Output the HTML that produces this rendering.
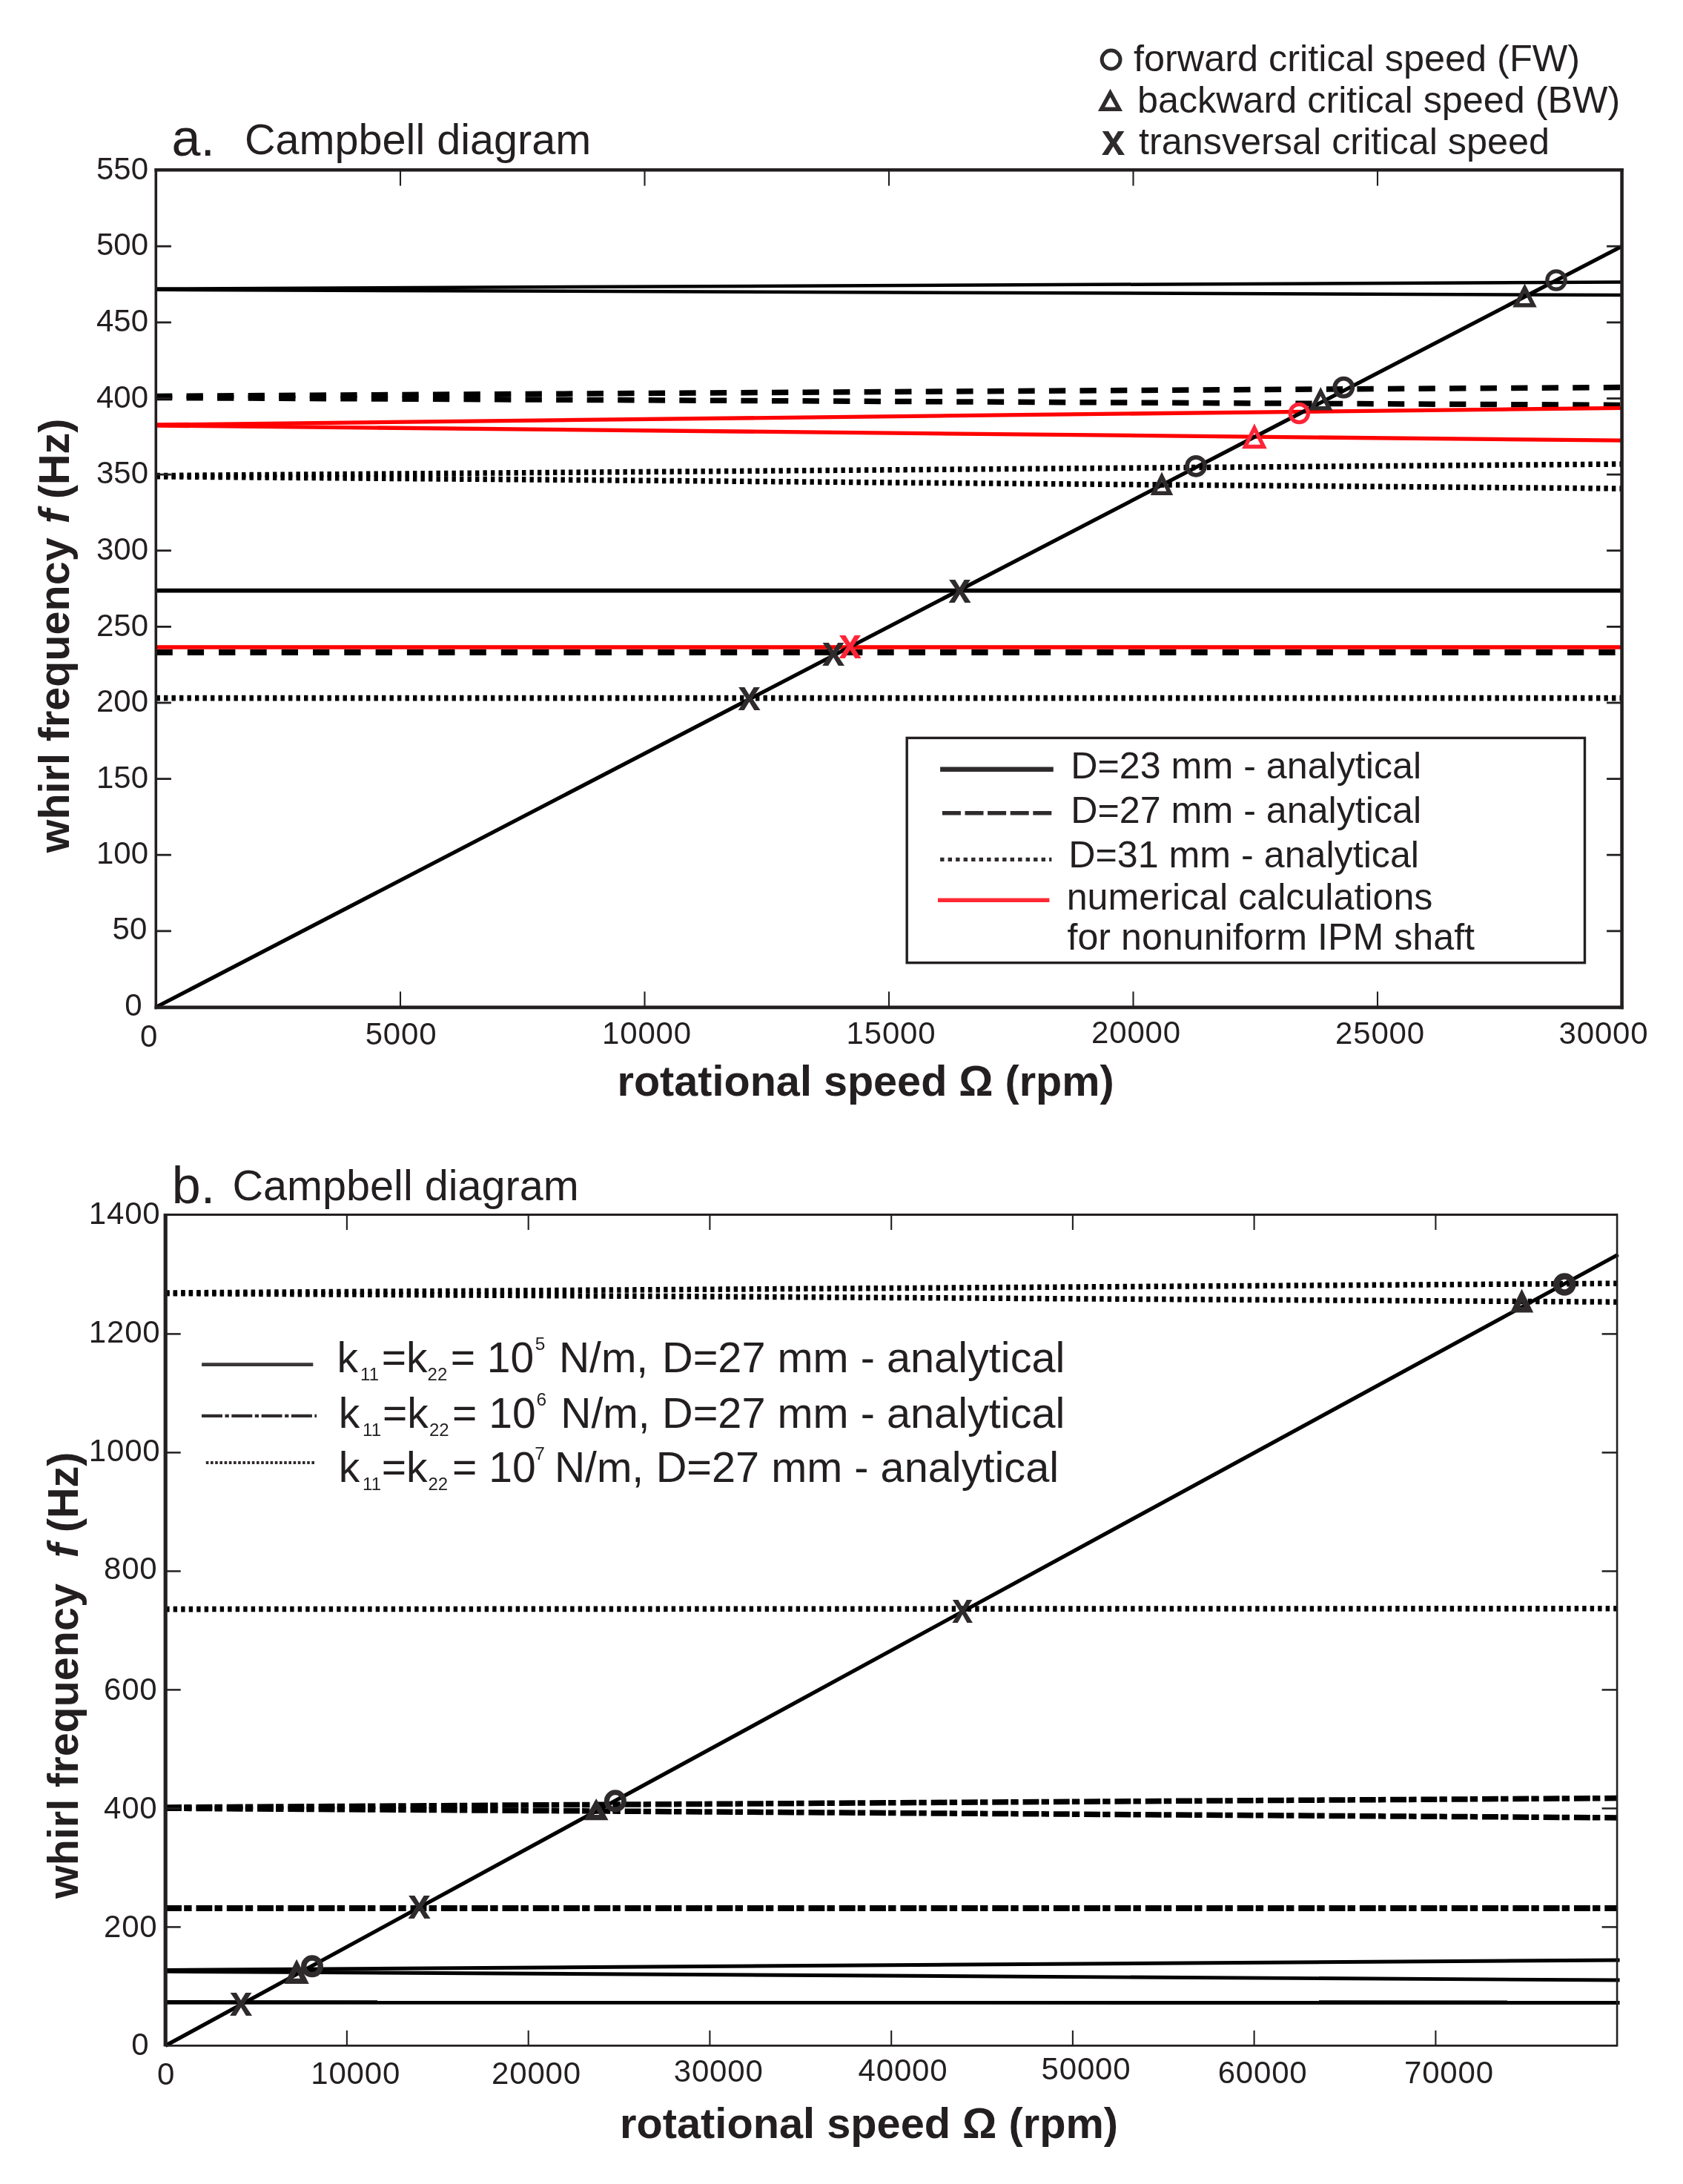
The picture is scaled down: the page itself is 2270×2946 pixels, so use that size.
<!DOCTYPE html>
<html lang="en">
<head>
<meta charset="utf-8">
<title>Campbell diagrams</title>
<style>
html,body{margin:0;padding:0;background:#fff;}
body{width:2270px;height:2946px;overflow:hidden;}
svg{display:block;font-family:"Liberation Sans",sans-serif;filter:blur(0.45px);}
</style>
</head>
<body>
<svg width="2270" height="2946" viewBox="0 0 2270 2946">
<rect width="2270" height="2946" fill="#fff"/>
<g id="plot-a">
<line x1="210.5" y1="641.6" x2="2187.5" y2="626.0" stroke="#000" stroke-width="7.5" stroke-dasharray="5.4 5.1"/>
<line x1="210.5" y1="642.8" x2="2187.5" y2="659.0" stroke="#000" stroke-width="7.5" stroke-dasharray="5.4 5.1"/>
<line x1="210.5" y1="941.6" x2="2187.5" y2="941.6" stroke="#000" stroke-width="7.6" stroke-dasharray="5.4 5.1"/>
<line x1="210.0" y1="534.5" x2="2187.5" y2="522.5" stroke="#000" stroke-width="7.5" stroke-dasharray="22.3 19.25"/>
<line x1="210.0" y1="536.5" x2="2187.5" y2="546.4" stroke="#000" stroke-width="7.5" stroke-dasharray="22.3 19.25"/>
<line x1="210.5" y1="880.0" x2="2187.5" y2="880.0" stroke="#000" stroke-width="7.9" stroke-dasharray="22.3 20"/>
<line x1="210.5" y1="389.6" x2="2187.5" y2="380.6" stroke="#000" stroke-width="4.5"/>
<line x1="210.5" y1="390.8" x2="2187.5" y2="398.0" stroke="#000" stroke-width="4.5"/>
<line x1="210.5" y1="796.6" x2="2187.5" y2="796.6" stroke="#000" stroke-width="5.6"/>
<line x1="210.5" y1="573.0" x2="2187.5" y2="550.4" stroke="#ff0000" stroke-width="5.3"/>
<line x1="210.5" y1="574.0" x2="2187.5" y2="594.2" stroke="#ff0000" stroke-width="5.3"/>
<line x1="210.5" y1="873.1" x2="2187.5" y2="873.1" stroke="#ff0000" stroke-width="5.5"/>
<line x1="210.5" y1="1358.5" x2="2187.5" y2="332.2" stroke="#000" stroke-width="5.2"/>
<line x1="210.3" y1="226.9" x2="210.3" y2="1361.2" stroke="#231f20" stroke-width="3.6"/>
<line x1="208.5" y1="229.2" x2="2189.9" y2="229.2" stroke="#231f20" stroke-width="4.6"/>
<line x1="2187.6" y1="226.9" x2="2187.6" y2="1361.2" stroke="#231f20" stroke-width="4.6"/>
<line x1="208.5" y1="1358.8" x2="2189.9" y2="1358.8" stroke="#231f20" stroke-width="4.8"/>
<line x1="540.0" y1="229.6" x2="540.0" y2="250.6" stroke="#231f20" stroke-width="2.1"/>
<line x1="540.0" y1="1358.5" x2="540.0" y2="1337.5" stroke="#231f20" stroke-width="2.1"/>
<line x1="869.5" y1="229.6" x2="869.5" y2="250.6" stroke="#231f20" stroke-width="2.1"/>
<line x1="869.5" y1="1358.5" x2="869.5" y2="1337.5" stroke="#231f20" stroke-width="2.1"/>
<line x1="1199.0" y1="229.6" x2="1199.0" y2="250.6" stroke="#231f20" stroke-width="2.1"/>
<line x1="1199.0" y1="1358.5" x2="1199.0" y2="1337.5" stroke="#231f20" stroke-width="2.1"/>
<line x1="1528.5" y1="229.6" x2="1528.5" y2="250.6" stroke="#231f20" stroke-width="2.1"/>
<line x1="1528.5" y1="1358.5" x2="1528.5" y2="1337.5" stroke="#231f20" stroke-width="2.1"/>
<line x1="1858.0" y1="229.6" x2="1858.0" y2="250.6" stroke="#231f20" stroke-width="2.1"/>
<line x1="1858.0" y1="1358.5" x2="1858.0" y2="1337.5" stroke="#231f20" stroke-width="2.1"/>
<line x1="210.5" y1="1255.9" x2="230.9" y2="1255.9" stroke="#231f20" stroke-width="2.8"/>
<line x1="2187.5" y1="1255.9" x2="2167.1" y2="1255.9" stroke="#231f20" stroke-width="2.8"/>
<line x1="210.5" y1="1153.2" x2="230.9" y2="1153.2" stroke="#231f20" stroke-width="2.8"/>
<line x1="2187.5" y1="1153.2" x2="2167.1" y2="1153.2" stroke="#231f20" stroke-width="2.8"/>
<line x1="210.5" y1="1050.6" x2="230.9" y2="1050.6" stroke="#231f20" stroke-width="2.8"/>
<line x1="2187.5" y1="1050.6" x2="2167.1" y2="1050.6" stroke="#231f20" stroke-width="2.8"/>
<line x1="210.5" y1="948.0" x2="230.9" y2="948.0" stroke="#231f20" stroke-width="2.8"/>
<line x1="2187.5" y1="948.0" x2="2167.1" y2="948.0" stroke="#231f20" stroke-width="2.8"/>
<line x1="210.5" y1="845.4" x2="230.9" y2="845.4" stroke="#231f20" stroke-width="2.8"/>
<line x1="2187.5" y1="845.4" x2="2167.1" y2="845.4" stroke="#231f20" stroke-width="2.8"/>
<line x1="210.5" y1="742.7" x2="230.9" y2="742.7" stroke="#231f20" stroke-width="2.8"/>
<line x1="2187.5" y1="742.7" x2="2167.1" y2="742.7" stroke="#231f20" stroke-width="2.8"/>
<line x1="210.5" y1="640.1" x2="230.9" y2="640.1" stroke="#231f20" stroke-width="2.8"/>
<line x1="2187.5" y1="640.1" x2="2167.1" y2="640.1" stroke="#231f20" stroke-width="2.8"/>
<line x1="210.5" y1="537.5" x2="230.9" y2="537.5" stroke="#231f20" stroke-width="2.8"/>
<line x1="2187.5" y1="537.5" x2="2167.1" y2="537.5" stroke="#231f20" stroke-width="2.8"/>
<line x1="210.5" y1="434.9" x2="230.9" y2="434.9" stroke="#231f20" stroke-width="2.8"/>
<line x1="2187.5" y1="434.9" x2="2167.1" y2="434.9" stroke="#231f20" stroke-width="2.8"/>
<line x1="210.5" y1="332.2" x2="230.9" y2="332.2" stroke="#231f20" stroke-width="2.8"/>
<line x1="2187.5" y1="332.2" x2="2167.1" y2="332.2" stroke="#231f20" stroke-width="2.8"/>
<text x="191.7" y="1369.9" font-size="42" text-anchor="end" font-weight="normal" fill="#231f20">0</text>
<text x="198.3" y="1267.3" font-size="42" text-anchor="end" font-weight="normal" fill="#231f20">50</text>
<text x="200.1" y="1165.4" font-size="42" text-anchor="end" font-weight="normal" fill="#231f20">100</text>
<text x="200.1" y="1062.8" font-size="42" text-anchor="end" font-weight="normal" fill="#231f20">150</text>
<text x="200.1" y="960.2" font-size="42" text-anchor="end" font-weight="normal" fill="#231f20">200</text>
<text x="200.1" y="857.6" font-size="42" text-anchor="end" font-weight="normal" fill="#231f20">250</text>
<text x="200.1" y="754.9" font-size="42" text-anchor="end" font-weight="normal" fill="#231f20">300</text>
<text x="200.1" y="652.3" font-size="42" text-anchor="end" font-weight="normal" fill="#231f20">350</text>
<text x="200.1" y="549.7" font-size="42" text-anchor="end" font-weight="normal" fill="#231f20">400</text>
<text x="200.1" y="447.1" font-size="42" text-anchor="end" font-weight="normal" fill="#231f20">450</text>
<text x="200.1" y="344.4" font-size="42" text-anchor="end" font-weight="normal" fill="#231f20">500</text>
<text x="200.1" y="241.8" font-size="42" text-anchor="end" font-weight="normal" fill="#231f20">550</text>
<text x="201.0" y="1412.0" font-size="42" text-anchor="middle" font-weight="normal" fill="#231f20" letter-spacing="0.8">0</text>
<text x="541.0" y="1408.5" font-size="42" text-anchor="middle" font-weight="normal" fill="#231f20" letter-spacing="0.8">5000</text>
<text x="872.5" y="1408.3" font-size="42" text-anchor="middle" font-weight="normal" fill="#231f20" letter-spacing="0.8">10000</text>
<text x="1202.0" y="1408.0" font-size="42" text-anchor="middle" font-weight="normal" fill="#231f20" letter-spacing="0.8">15000</text>
<text x="1532.5" y="1406.5" font-size="42" text-anchor="middle" font-weight="normal" fill="#231f20" letter-spacing="0.8">20000</text>
<text x="1861.5" y="1407.7" font-size="42" text-anchor="middle" font-weight="normal" fill="#231f20" letter-spacing="0.8">25000</text>
<text x="2163.0" y="1407.7" font-size="42" text-anchor="middle" font-weight="normal" fill="#231f20" letter-spacing="0.8">30000</text>
<circle cx="2099.0" cy="378.0" r="12.2" fill="none" stroke="#2f2b2c" stroke-width="5.2"/>
<polygon points="2056.5,388.6 2068.2,411.7 2044.8,411.7" fill="none" stroke="#2f2b2c" stroke-width="5.6" stroke-linejoin="miter" stroke-miterlimit="10"/>
<circle cx="1812.3" cy="522.6" r="12.0" fill="none" stroke="#2f2b2c" stroke-width="5.8"/>
<polygon points="1781.3,528.2 1792.8,550.7 1769.8,550.7" fill="none" stroke="#2f2b2c" stroke-width="5.6" stroke-linejoin="miter" stroke-miterlimit="10"/>
<circle cx="1613.1" cy="628.8" r="12.0" fill="none" stroke="#2f2b2c" stroke-width="5.8"/>
<polygon points="1567.0,642.9 1577.8,665.3 1556.2,665.3" fill="none" stroke="#2f2b2c" stroke-width="5.6" stroke-linejoin="miter" stroke-miterlimit="10"/>
<circle cx="1752.3" cy="557.5" r="12.1" fill="none" stroke="#ff2436" stroke-width="5.3"/>
<polygon points="1691.9,577.4 1704.4,602.5 1679.4,602.5" fill="none" stroke="#ff2436" stroke-width="5.4" stroke-linejoin="miter" stroke-miterlimit="10"/>
<text transform="translate(1294.5 813.3) scale(0.92 1)" font-size="60" font-weight="bold" text-anchor="middle" fill="#2f2b2c">x</text>
<text transform="translate(1124.0 898.3) scale(0.92 1)" font-size="60" font-weight="bold" text-anchor="middle" fill="#2f2b2c">x</text>
<text transform="translate(1146.7 887.7) scale(0.92 1)" font-size="60" font-weight="bold" text-anchor="middle" fill="#ff2436">x</text>
<text transform="translate(1010.7 958.4) scale(0.92 1)" font-size="60" font-weight="bold" text-anchor="middle" fill="#2f2b2c">x</text>
<rect x="1223.2" y="995.4" width="914.3" height="303.3" fill="#fff" stroke="#231f20" stroke-width="3.4"/>
<line x1="1268.1" y1="1037.7" x2="1420.8" y2="1037.7" stroke="#2f2b2c" stroke-width="6.4"/>
<line x1="1270.9" y1="1096.7" x2="1418.4" y2="1096.7" stroke="#2f2b2c" stroke-width="5.4" stroke-dasharray="25 5.6"/>
<line x1="1268.1" y1="1159.4" x2="1418.4" y2="1159.4" stroke="#2f2b2c" stroke-width="5.4" stroke-dasharray="5.4 5.1"/>
<line x1="1265.0" y1="1214.2" x2="1415.4" y2="1214.2" stroke="#ff2a35" stroke-width="5.4"/>
<text x="1444.3" y="1050.4" font-size="50.2" text-anchor="start" font-weight="normal" fill="#231f20">D=23 mm - analytical</text>
<text x="1444.3" y="1110.3" font-size="50.2" text-anchor="start" font-weight="normal" fill="#231f20">D=27 mm - analytical</text>
<text x="1441.2" y="1170.2" font-size="50.2" text-anchor="start" font-weight="normal" fill="#231f20">D=31 mm - analytical</text>
<text x="1438.7" y="1227.2" font-size="50.2" text-anchor="start" font-weight="normal" fill="#231f20">numerical calculations</text>
<text x="1439.5" y="1281.4" font-size="50.2" text-anchor="start" font-weight="normal" fill="#231f20">for nonuniform IPM shaft</text>
<text x="231.5" y="209.5" font-size="70" text-anchor="start" font-weight="normal" fill="#231f20">a.</text>
<text x="329.9" y="208.2" font-size="57.6" text-anchor="start" font-weight="normal" fill="#231f20">Campbell diagram</text>
<circle cx="1498.6" cy="80.5" r="12.4" fill="none" stroke="#2f2b2c" stroke-width="5"/>
<polygon points="1497.5,125.4 1509.5,147.3 1485.5,147.3" fill="none" stroke="#2f2b2c" stroke-width="5.4" stroke-linejoin="miter" stroke-miterlimit="10"/>
<text transform="translate(1501.5 209.4) scale(0.92 1)" font-size="62" font-weight="bold" text-anchor="middle" fill="#2f2b2c">x</text>
<text x="1529.0" y="96.2" font-size="50.4" text-anchor="start" font-weight="normal" fill="#231f20">forward critical speed (FW)</text>
<text x="1534.0" y="152.2" font-size="50.3" text-anchor="start" font-weight="normal" fill="#231f20">backward critical speed (BW)</text>
<text x="1536.0" y="208.2" font-size="50.35" text-anchor="start" font-weight="normal" fill="#231f20">transversal critical speed</text>
<text x="1167.6" y="1478.4" font-size="57.6" text-anchor="middle" font-weight="bold" fill="#231f20">rotational speed Ω (rpm)</text>
<text transform="translate(92.6 857.4) rotate(-90)" font-size="57.5" font-weight="bold" text-anchor="middle" fill="#231f20">whirl frequency <tspan font-style="italic" dx="3.1">f</tspan><tspan dx="-1.9"> (Hz)</tspan></text>
</g>
<g id="plot-b">
<line x1="223.2" y1="1744.0" x2="2181.1" y2="1731.2" stroke="#000" stroke-width="7.5" stroke-dasharray="5.4 5.1"/>
<line x1="223.2" y1="1744.6" x2="2181.1" y2="1756.2" stroke="#000" stroke-width="7.5" stroke-dasharray="5.4 5.1"/>
<line x1="223.2" y1="2170.6" x2="2181.1" y2="2169.8" stroke="#000" stroke-width="7.6" stroke-dasharray="5.4 5.1"/>
<line x1="223.2" y1="2438.0" x2="2181.1" y2="2425.6" stroke="#000" stroke-width="7.5" stroke-dasharray="21.8 3.2 10.4 5.9"/>
<line x1="223.2" y1="2439.2" x2="2181.1" y2="2451.9" stroke="#000" stroke-width="7.5" stroke-dasharray="21.8 3.2 10.4 5.9"/>
<line x1="223.2" y1="2573.9" x2="2181.1" y2="2574.1" stroke="#000" stroke-width="8" stroke-dasharray="21.8 3.2 10.4 5.9"/>
<line x1="223.2" y1="2657.4" x2="2184.6" y2="2644.0" stroke="#000" stroke-width="4.9"/>
<line x1="223.2" y1="2659.3" x2="2184.6" y2="2671.0" stroke="#000" stroke-width="4.9"/>
<line x1="223.2" y1="2700.9" x2="2184.6" y2="2701.2" stroke="#000" stroke-width="5.6"/>
<line x1="223.2" y1="2759.4" x2="2182.6" y2="1692.3" stroke="#000" stroke-width="5.2"/>
<line x1="223.2" y1="1637.0" x2="223.2" y2="2760.6" stroke="#231f20" stroke-width="5.2"/>
<line x1="223.2" y1="1638.5" x2="2181.1" y2="1638.5" stroke="#231f20" stroke-width="3"/>
<line x1="2181.1" y1="1637.0" x2="2181.1" y2="2760.6" stroke="#231f20" stroke-width="2.6"/>
<line x1="223.2" y1="2759.4" x2="2181.1" y2="2759.4" stroke="#231f20" stroke-width="2.6"/>
<line x1="467.9" y1="1638.5" x2="467.9" y2="1659.0" stroke="#231f20" stroke-width="2.1"/>
<line x1="467.9" y1="2759.4" x2="467.9" y2="2738.9" stroke="#231f20" stroke-width="2.1"/>
<line x1="712.7" y1="1638.5" x2="712.7" y2="1659.0" stroke="#231f20" stroke-width="2.1"/>
<line x1="712.7" y1="2759.4" x2="712.7" y2="2738.9" stroke="#231f20" stroke-width="2.1"/>
<line x1="957.4" y1="1638.5" x2="957.4" y2="1659.0" stroke="#231f20" stroke-width="2.1"/>
<line x1="957.4" y1="2759.4" x2="957.4" y2="2738.9" stroke="#231f20" stroke-width="2.1"/>
<line x1="1202.2" y1="1638.5" x2="1202.2" y2="1659.0" stroke="#231f20" stroke-width="2.1"/>
<line x1="1202.2" y1="2759.4" x2="1202.2" y2="2738.9" stroke="#231f20" stroke-width="2.1"/>
<line x1="1446.9" y1="1638.5" x2="1446.9" y2="1659.0" stroke="#231f20" stroke-width="2.1"/>
<line x1="1446.9" y1="2759.4" x2="1446.9" y2="2738.9" stroke="#231f20" stroke-width="2.1"/>
<line x1="1691.6" y1="1638.5" x2="1691.6" y2="1659.0" stroke="#231f20" stroke-width="2.1"/>
<line x1="1691.6" y1="2759.4" x2="1691.6" y2="2738.9" stroke="#231f20" stroke-width="2.1"/>
<line x1="1936.4" y1="1638.5" x2="1936.4" y2="1659.0" stroke="#231f20" stroke-width="2.1"/>
<line x1="1936.4" y1="2759.4" x2="1936.4" y2="2738.9" stroke="#231f20" stroke-width="2.1"/>
<line x1="223.2" y1="2599.4" x2="243.7" y2="2599.4" stroke="#231f20" stroke-width="2.5"/>
<line x1="2181.1" y1="2599.4" x2="2160.6" y2="2599.4" stroke="#231f20" stroke-width="2.5"/>
<line x1="223.2" y1="2439.4" x2="243.7" y2="2439.4" stroke="#231f20" stroke-width="2.5"/>
<line x1="2181.1" y1="2439.4" x2="2160.6" y2="2439.4" stroke="#231f20" stroke-width="2.5"/>
<line x1="223.2" y1="2279.4" x2="243.7" y2="2279.4" stroke="#231f20" stroke-width="2.5"/>
<line x1="2181.1" y1="2279.4" x2="2160.6" y2="2279.4" stroke="#231f20" stroke-width="2.5"/>
<line x1="223.2" y1="2119.4" x2="243.7" y2="2119.4" stroke="#231f20" stroke-width="2.5"/>
<line x1="2181.1" y1="2119.4" x2="2160.6" y2="2119.4" stroke="#231f20" stroke-width="2.5"/>
<line x1="223.2" y1="1959.4" x2="243.7" y2="1959.4" stroke="#231f20" stroke-width="2.5"/>
<line x1="2181.1" y1="1959.4" x2="2160.6" y2="1959.4" stroke="#231f20" stroke-width="2.5"/>
<line x1="223.2" y1="1799.4" x2="243.7" y2="1799.4" stroke="#231f20" stroke-width="2.5"/>
<line x1="2181.1" y1="1799.4" x2="2160.6" y2="1799.4" stroke="#231f20" stroke-width="2.5"/>
<text x="216.5" y="1650.5" font-size="42" text-anchor="end" font-weight="normal" fill="#231f20" letter-spacing="0.8">1400</text>
<text x="216.5" y="1810.6" font-size="42" text-anchor="end" font-weight="normal" fill="#231f20" letter-spacing="0.8">1200</text>
<text x="216.5" y="1970.6" font-size="42" text-anchor="end" font-weight="normal" fill="#231f20" letter-spacing="0.8">1000</text>
<text x="212.5" y="2130.1" font-size="42" text-anchor="end" font-weight="normal" fill="#231f20" letter-spacing="0.8">800</text>
<text x="212.5" y="2293.3" font-size="42" text-anchor="end" font-weight="normal" fill="#231f20" letter-spacing="0.8">600</text>
<text x="212.5" y="2452.8" font-size="42" text-anchor="end" font-weight="normal" fill="#231f20" letter-spacing="0.8">400</text>
<text x="212.5" y="2612.7" font-size="42" text-anchor="end" font-weight="normal" fill="#231f20" letter-spacing="0.8">200</text>
<text x="201.5" y="2772.1" font-size="42" text-anchor="end" font-weight="normal" fill="#231f20" letter-spacing="0.8">0</text>
<text x="224.1" y="2811.5" font-size="42" text-anchor="middle" font-weight="normal" fill="#231f20" letter-spacing="0.8">0</text>
<text x="479.7" y="2810.7" font-size="42" text-anchor="middle" font-weight="normal" fill="#231f20" letter-spacing="0.8">10000</text>
<text x="723.5" y="2810.7" font-size="42" text-anchor="middle" font-weight="normal" fill="#231f20" letter-spacing="0.8">20000</text>
<text x="969.2" y="2807.8" font-size="42" text-anchor="middle" font-weight="normal" fill="#231f20" letter-spacing="0.8">30000</text>
<text x="1218.0" y="2806.6" font-size="42" text-anchor="middle" font-weight="normal" fill="#231f20" letter-spacing="0.8">40000</text>
<text x="1465.0" y="2805.3" font-size="42" text-anchor="middle" font-weight="normal" fill="#231f20" letter-spacing="0.8">50000</text>
<text x="1703.1" y="2809.9" font-size="42" text-anchor="middle" font-weight="normal" fill="#231f20" letter-spacing="0.8">60000</text>
<text x="1954.4" y="2809.9" font-size="42" text-anchor="middle" font-weight="normal" fill="#231f20" letter-spacing="0.8">70000</text>
<circle cx="2110.2" cy="1732.5" r="11.0" fill="none" stroke="#2f2b2c" stroke-width="8.6"/>
<polygon points="2052.6,1747.4 2062.0,1766.7 2043.2,1766.7" fill="none" stroke="#2f2b2c" stroke-width="7.8" stroke-linejoin="miter" stroke-miterlimit="10"/>
<text transform="translate(1298.3 2188.8) scale(0.85 1)" font-size="60" font-weight="bold" text-anchor="middle" fill="#2f2b2c">x</text>
<circle cx="829.9" cy="2429.4" r="11.6" fill="none" stroke="#2f2b2c" stroke-width="6.9"/>
<polygon points="804.2,2433.4 814.4,2451.6 794.0,2451.6" fill="none" stroke="#2f2b2c" stroke-width="7.2" stroke-linejoin="miter" stroke-miterlimit="10"/>
<text transform="translate(565.5 2587.5) scale(0.92 1)" font-size="60" font-weight="bold" text-anchor="middle" fill="#2f2b2c">x</text>
<circle cx="421.0" cy="2652.3" r="11.3" fill="none" stroke="#2f2b2c" stroke-width="7.4"/>
<polygon points="400.1,2651.0 410.8,2672.4 389.4,2672.4" fill="none" stroke="#2f2b2c" stroke-width="7.4" stroke-linejoin="miter" stroke-miterlimit="10"/>
<text transform="translate(325.1 2718.6) scale(0.92 1)" font-size="60" font-weight="bold" text-anchor="middle" fill="#2f2b2c">x</text>
<line x1="272.1" y1="1840.6" x2="422.3" y2="1840.6" stroke="#3a3637" stroke-width="4.8"/>
<line x1="272.0" y1="1909.9" x2="427.0" y2="1909.9" stroke="#2f2b2c" stroke-width="4.2" stroke-dasharray="28 3.5 5.3 3.5"/>
<line x1="277.8" y1="1973.0" x2="424.7" y2="1973.0" stroke="#2f2b2c" stroke-width="4" stroke-dasharray="3.6 2.6"/>
<text y="1851.3" font-size="57" fill="#231f20"><tspan x="454.5">k</tspan><tspan x="486.1" dy="10.8" font-size="24">11</tspan><tspan x="514.8" dy="-10.8" font-size="57">=k</tspan><tspan x="576.6" dy="10.8" font-size="24">22</tspan><tspan x="607.7" dy="-10.8" font-size="57">= 10</tspan><tspan x="721.8" dy="-30" font-size="24.5">5</tspan><tspan x="753.9" dy="30" font-size="57">N/m,</tspan><tspan x="893.0" font-size="57.7">D=27 mm - analytical</tspan></text>
<text y="1925.9" font-size="57" fill="#231f20"><tspan x="456.8">k</tspan><tspan x="489.1" dy="10.8" font-size="24">11</tspan><tspan x="516.0" dy="-10.8" font-size="57">=k</tspan><tspan x="578.9" dy="10.8" font-size="24">22</tspan><tspan x="610.1" dy="-10.8" font-size="57">= 10</tspan><tspan x="723.6" dy="-30" font-size="24.5">6</tspan><tspan x="756.3" dy="30" font-size="57">N/m,</tspan><tspan x="893.0" font-size="57.7">D=27 mm - analytical</tspan></text>
<text y="1999.4" font-size="57" fill="#231f20"><tspan x="456.8">k</tspan><tspan x="489.1" dy="10.8" font-size="24">11</tspan><tspan x="514.8" dy="-10.8" font-size="57">=k</tspan><tspan x="577.4" dy="10.8" font-size="24">22</tspan><tspan x="610.1" dy="-10.8" font-size="57">= 10</tspan><tspan x="721.3" dy="-30" font-size="24.5">7</tspan><tspan x="747.9" dy="30" font-size="57">N/m,</tspan><tspan x="884.7" font-size="57.7">D=27 mm - analytical</tspan></text>
<text x="231.8" y="1622.7" font-size="70" text-anchor="start" font-weight="normal" fill="#231f20">b.</text>
<text x="313.4" y="1619.4" font-size="57.6" text-anchor="start" font-weight="normal" fill="#231f20">Campbell diagram</text>
<text x="1172.0" y="2883.6" font-size="57.75" text-anchor="middle" font-weight="bold" fill="#231f20">rotational speed Ω (rpm)</text>
<text transform="translate(105.4 2259.8) rotate(-90)" font-size="57.5" font-weight="bold" text-anchor="middle" fill="#231f20" style="white-space:pre">whirl frequency  <tspan font-style="italic" dx="2.8">f</tspan><tspan dx="-0.9"> (Hz)</tspan></text>
</g>
</svg>
</body>
</html>
